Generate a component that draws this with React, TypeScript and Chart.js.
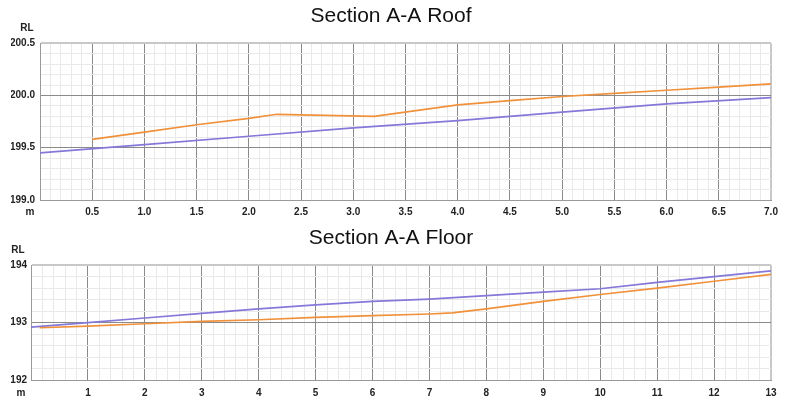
import React, { useEffect, useRef } from "react";
import { Chart, registerables } from "chart.js";

Chart.register(...registerables);

// ---------- text ----------
const roofTitle = "Section A-A Roof";
const floorTitle = "Section A-A Floor";
const yAxisLabel = "RL";
const xAxisLabel = "m";

// ---------- Roof data ----------
const roofOrangeX = [0.5, 1.0, 1.5, 2.0, 2.27, 3.2, 4.0, 4.5, 5.0, 5.5, 6.0, 6.5, 7.0];
const roofOrangeY = [199.58, 199.65, 199.72, 199.78, 199.82, 199.8, 199.91, 199.95, 199.99, 200.02, 200.05, 200.08, 200.11];
const roofBlueX = [0, 1, 2, 3, 4, 5, 6, 7];
const roofBlueY = [199.45, 199.53, 199.61, 199.69, 199.76, 199.84, 199.92, 199.98];

// ---------- Floor data ----------
const floorOrangeX = [0.15, 1, 2, 3, 4, 5, 6, 7, 7.4, 8, 9, 10, 11, 12, 13];
const floorOrangeY = [192.91, 192.94, 192.98, 193.02, 193.05, 193.09, 193.12, 193.15, 193.17, 193.24, 193.37, 193.49, 193.6, 193.72, 193.84];
const floorBlueX = [0, 1, 2, 3, 4, 5, 6, 7, 8, 9, 10, 11, 12, 13];
const floorBlueY = [192.92, 193.0, 193.08, 193.16, 193.24, 193.31, 193.37, 193.41, 193.47, 193.53, 193.59, 193.7, 193.8, 193.9];

// ---------- axis ranges ----------
const roofXRange = { min: 0, max: 7, minor: 0.1, major: 0.5, decimals: 1 };
const roofYRange = { min: 199, max: 200.5, minor: 0.1, major: 0.5, decimals: 1 };
const floorXRange = { min: 0, max: 13, minor: 0.2, major: 1, decimals: 0 };
const floorYRange = { min: 192, max: 194, minor: 0.2, major: 1, decimals: 0 };

const ORANGE = "#f0913c";
const BLUE = "#8478d8";
const FONT = '"Liberation Sans", Arial, Helvetica, sans-serif';

type Range = { min: number; max: number; minor: number; major: number; decimals: number };

function isMajor(v: number, r: Range) {
  const q = v / r.major;
  return Math.abs(q - Math.round(q)) < 1e-6;
}

function tickValues(r: Range) {
  const n = Math.round((r.max - r.min) / r.minor);
  const out: { value: number }[] = [];
  for (let i = 0; i <= n; i++) out.push({ value: +(r.min + i * r.minor).toFixed(6) });
  return out;
}

function axis(r: Range, isX: boolean, fixedSize: number, pad: number) {
  return {
    type: "linear",
    min: r.min,
    max: r.max,
    afterBuildTicks: (scale: any) => {
      scale.ticks = tickValues(r);
    },
    afterFit: (scale: any) => {
      if (isX) scale.height = fixedSize;
      else scale.width = fixedSize;
    },
    border: { display: true, color: "#9a9a9a", width: 1 },
    grid: {
      drawTicks: false,
      color: (ctx: any) => {
        const v = ctx.tick ? ctx.tick.value : 0;
        if (Math.abs(v - r.max) < 1e-6) return "#c8c8c8";
        return isMajor(v, r) ? "#8a8a8a" : "#e9e9e9";
      },
      lineWidth: (ctx: any) => {
        const v = ctx.tick ? ctx.tick.value : 0;
        return Math.abs(v - r.max) < 1e-6 ? 2 : 1;
      },
    },
    ticks: {
      autoSkip: false,
      maxRotation: 0,
      minRotation: 0,
      padding: pad,
      color: "#222",
      font: { family: FONT, size: 10, weight: "bold" },
      callback: (value: any) => {
        const v = Number(value);
        if (!isMajor(v, r)) return "";
        if (isX && Math.abs(v - r.min) < 1e-6) return "";
        return v.toFixed(r.decimals);
      },
    },
  };
}

const cornerLabels = {
  id: "cornerLabels",
  afterDraw(chart: any, _args: any, opts: any) {
    const { ctx, chartArea } = chart;
    ctx.save();
    ctx.font = `bold 10px ${FONT}`;
    ctx.fillStyle = "#222";
    ctx.textAlign = "center";
    ctx.textBaseline = "middle";
    ctx.fillText(opts.yLabel, chartArea.left - 13, chartArea.top - 15);
    ctx.fillText(opts.xLabel, chartArea.left - 10, chartArea.bottom + opts.xOffset);
    ctx.restore();
  },
};

function pts(xs: number[], ys: number[]) {
  return xs.map((x, i) => ({ x, y: ys[i] }));
}

type PanelProps = {
  title: string;
  width: number;
  height: number;
  top: number;
  orange: { x: number; y: number }[];
  blue: { x: number; y: number }[];
  xr: Range;
  yr: Range;
  yWidth: number;
  xHeight: number;
  titlePad: { top: number; bottom: number };
  xTickPad: number;
  yTickPad: number;
  xLabelOffset: number;
};

function Panel(p: PanelProps) {
  const ref = useRef<HTMLCanvasElement | null>(null);
  useEffect(() => {
    if (!ref.current) return;
    const chart = new Chart(ref.current, {
      type: "line",
      data: {
        datasets: [
          {
            label: "Orange",
            data: p.orange,
            borderColor: ORANGE,
            backgroundColor: ORANGE,
            borderWidth: 1.7,
            pointRadius: 0,
            tension: 0,
            fill: false,
          },
          {
            label: "Blue",
            data: p.blue,
            borderColor: BLUE,
            backgroundColor: BLUE,
            borderWidth: 1.7,
            pointRadius: 0,
            tension: 0,
            fill: false,
          },
        ],
      },
      options: {
        responsive: false,
        animation: false,
        devicePixelRatio: 1,
        parsing: false as any,
        layout: { padding: { left: 11, right: 19, top: 0, bottom: 0 } },
        scales: {
          x: axis(p.xr, true, p.xHeight, p.xTickPad) as any,
          y: axis(p.yr, false, p.yWidth, p.yTickPad) as any,
        },
        plugins: {
          legend: { display: false },
          tooltip: { enabled: false },
          title: {
            display: true,
            text: p.title,
            color: "#111",
            font: { family: FONT, size: 21, weight: "normal" as any, lineHeight: 1.2 },
            padding: p.titlePad,
          },
          cornerLabels: { yLabel: yAxisLabel, xLabel: xAxisLabel, xOffset: p.xLabelOffset },
        } as any,
      },
      plugins: [cornerLabels as any],
    });
    return () => chart.destroy();
  }, []);
  return (
    <canvas
      ref={ref}
      width={p.width}
      height={p.height}
      style={{ position: "absolute", left: 0, top: p.top, width: p.width, height: p.height, display: "block" }}
    />
  );
}

export default function App() {
  return (
    <div style={{ position: "fixed", left: 0, top: 0, width: 790, height: 397, background: "#fff", overflow: "hidden" }}>
      <Panel
        title={roofTitle}
        width={790}
        height={220}
        top={0}
        orange={pts(roofOrangeX, roofOrangeY)}
        blue={pts(roofBlueX, roofBlueY)}
        xr={roofXRange}
        yr={roofYRange}
        yWidth={29}
        xHeight={20}
        titlePad={{ top: 4, bottom: 14 }}
        xTickPad={6}
        yTickPad={5}
        xLabelOffset={12}
      />
      <Panel
        title={floorTitle}
        width={790}
        height={177}
        top={220}
        orange={pts(floorOrangeX, floorOrangeY)}
        blue={pts(floorBlueX, floorBlueY)}
        xr={floorXRange}
        yr={floorYRange}
        yWidth={20}
        xHeight={17}
        titlePad={{ top: 6, bottom: 14 }}
        xTickPad={7}
        yTickPad={4}
        xLabelOffset={13}
      />
    </div>
  );
}
